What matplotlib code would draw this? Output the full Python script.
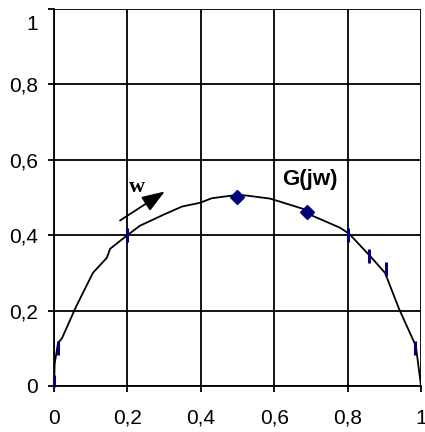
import matplotlib.pyplot as plt
from matplotlib.ticker import FuncFormatter
from matplotlib.transforms import ScaledTranslation

# curve of G(jw)
re_g = [0.0, 0.002, 0.011, 0.022, 0.06, 0.106, 0.144, 0.153, 0.2, 0.234, 0.3, 0.349,
        0.398, 0.43, 0.5, 0.526, 0.589, 0.695, 0.703, 0.779, 0.804, 0.861, 0.902,
        0.94, 0.986, 1.0]
im_g = [0.0, 0.06, 0.114, 0.127, 0.21, 0.30, 0.34, 0.364, 0.40, 0.425, 0.455, 0.476,
        0.486, 0.498, 0.507, 0.505, 0.497, 0.465, 0.452, 0.42, 0.404, 0.345, 0.30,
        0.205, 0.106, 0.0]

# markers
dash_x = [0.0, 0.012, 0.2, 0.8, 0.859, 0.905, 0.985]
dash_y = [0.0, 0.10, 0.40, 0.40, 0.345, 0.31, 0.10]
diam_x = [0.5, 0.69]
diam_y = [0.5, 0.462]

ticks = [0, 0.2, 0.4, 0.6, 0.8, 1.0]

plt.rcParams['font.family'] = ['Liberation Sans', 'DejaVu Sans']

fig = plt.figure(figsize=(4.25, 4.32), dpi=100)
ax = fig.add_axes([0.127, 0.1065, 0.8636, 0.8727])

ax.plot(re_g, im_g, color='black', lw=1.3, zorder=3)
ax.plot(dash_x[1:], dash_y[1:], ls='none', marker='|', ms=10, mew=2.2,
        color='#00007a', zorder=4)
ax.plot([dash_x[0]], [0.012], ls='none', marker='|', ms=9, mew=2.2,
        color='#00007a', zorder=4, clip_on=False)
ax.plot(diam_x, diam_y, ls='none', marker='D', ms=7, color='#00007a', zorder=4)

ax.annotate('', xy=(0.302, 0.516), xytext=(0.18, 0.439),
            arrowprops=dict(arrowstyle='-|>,head_length=1.4,head_width=0.5',
                            color='black', lw=1.3, shrinkA=0, shrinkB=0))
ax.text(0.226, 0.527, 'w', fontsize=16, fontweight='bold',
        family='Liberation Serif', ha='center', va='center')
ax.text(0.698, 0.548, 'G(jw)', fontsize=16, fontweight='bold',
        ha='center', va='center')

ax.set_xlim(0, 1)
ax.set_ylim(0, 1)
ax.set_xticks(ticks)
ax.set_yticks(ticks)
fmt = FuncFormatter(lambda v, p: ('%g' % v).replace('.', ','))
ax.xaxis.set_major_formatter(fmt)
ax.yaxis.set_major_formatter(fmt)
ax.tick_params(labelsize=15, length=4.5, width=1.3, color='black')
ax.tick_params(axis='x', pad=12)
ax.tick_params(axis='y', pad=7)
ax.grid(True, color='black', lw=1.3)
ax.set_axisbelow(True)
for side in ['top', 'right']:
    ax.spines[side].set_visible(False)
for side in ['left', 'bottom']:
    ax.spines[side].set_linewidth(1.3)

# top label sits lower in the reference
fig.canvas.draw()
top_lab = ax.get_yticklabels()[-1]
top_lab.set_transform(top_lab.get_transform() +
                      ScaledTranslation(0, -14 / 100, fig.dpi_scale_trans))

fig.savefig('out.png', dpi=100)
